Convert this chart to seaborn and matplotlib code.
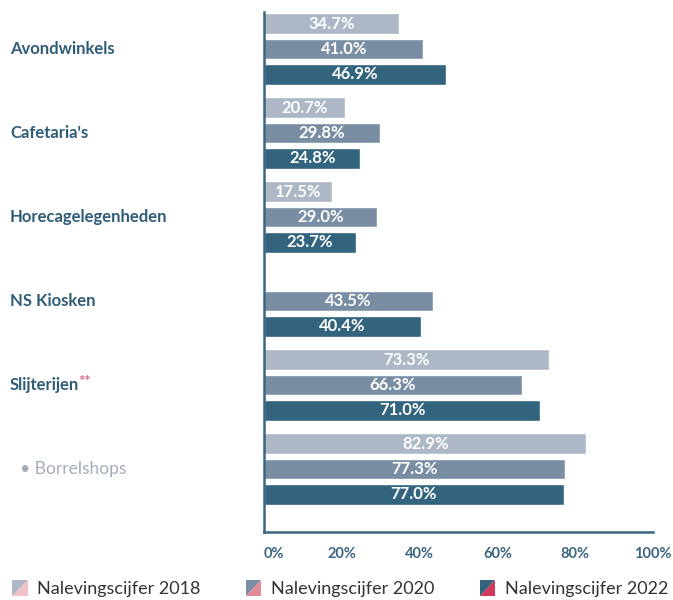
import matplotlib
matplotlib.use("Agg")
import matplotlib.pyplot as plt
from matplotlib.legend_handler import HandlerBase
from matplotlib.patches import Polygon
from matplotlib.transforms import blended_transform_factory
import numpy as np
import pandas as pd
import seaborn as sns

# Compliance rates (%) per sales channel and survey year
categories = ["Avondwinkels", "Cafetaria's", "Horecagelegenheden", "NS Kiosken",
              "Slijterijen", "Borrelshops"]
years = ["Nalevingscijfer 2018", "Nalevingscijfer 2020", "Nalevingscijfer 2022"]
values_2018 = [34.7, 20.7, 17.5, np.nan, 73.3, 82.9]
values_2020 = [41.0, 29.8, 29.0, 43.5, 66.3, 77.3]
values_2022 = [46.9, 24.8, 23.7, 40.4, 71.0, 77.0]
tick_values = list(range(0, 101, 10))
tick_labels = ["0%", "", "20%", "", "40%", "", "60%", "", "80%", "", "100%"]

bar_colors = ["#adb7c6", "#7a8ea3", "#33647e"]
accent_colors = ["#f0c1c8", "#e08b95", "#cf3a5b"]
axis_color = "#3a6580"
label_color = "#2f5d79"

df = pd.DataFrame({
    "category": categories * 3,
    "year": [years[0]] * 6 + [years[1]] * 6 + [years[2]] * 6,
    "value": values_2018 + values_2020 + values_2022,
})

sns.set_theme(style="white")
plt.rcParams["font.family"] = ["Lato", "DejaVu Sans"]

fig = plt.figure(figsize=(6.73, 6.0), dpi=100)
ax = fig.add_axes([264 / 673, 1 - 532 / 600, 389 / 673, 520 / 600])

sns.barplot(data=df, y="category", x="value", hue="year", order=categories,
            hue_order=years, palette=bar_colors, orient="h", width=0.9,
            gap=0.17, saturation=1, legend=False, ax=ax)

# value labels inside bars
for cont in ax.containers:
    labels = []
    for bar in cont:
        w = bar.get_width()
        labels.append("" if np.isnan(w) else f"{w:.1f}%")
    ax.bar_label(cont, labels=labels, label_type="center", color="white",
                 fontsize=12, fontweight="bold")

ax.set_xlim(0, 100)
ax.set_ylim(5.75, -0.44)
ax.set_xlabel("")
ax.set_ylabel("")
ax.set_yticks([])
ax.set_xticks(tick_values)
ax.set_xticklabels(tick_labels)
ax.tick_params(axis="x", direction="in", length=6, width=1.6, color=axis_color,
               pad=11, labelsize=10.5, labelcolor=axis_color)
for lab in ax.get_xticklabels():
    lab.set_fontweight("bold")
ax.get_xticklabels()[0].set_horizontalalignment("left")

for side in ["top", "right"]:
    ax.spines[side].set_visible(False)
for side in ["left", "bottom"]:
    ax.spines[side].set_color(axis_color)
    ax.spines[side].set_linewidth(1.8)

# category labels at the left edge of the figure
trans = blended_transform_factory(fig.transFigure, ax.transData)
for i, cat in enumerate(categories):
    if cat == "Borrelshops":
        ax.text(20 / 673, i, "• " + cat, transform=trans, ha="left", va="center",
                fontsize=12.5, color="#a3adbf")
    else:
        t = ax.text(10 / 673, i, cat, transform=trans, ha="left", va="center",
                    fontsize=12, fontweight="bold", color=label_color)
        if cat == "Slijterijen":
            ax.annotate("**", xy=(1, 1), xycoords=t, xytext=(-0.5, 1.5),
                        textcoords="offset points", ha="left", va="top",
                        fontsize=11, fontweight="bold", color="#e36a87")


class TwoTone:
    def __init__(self, c1, c2):
        self.c1 = c1
        self.c2 = c2


class TwoToneHandler(HandlerBase):
    def create_artists(self, legend, orig_handle, xdescent, ydescent, width,
                       height, fontsize, trans):
        x0, y0 = -xdescent, -ydescent
        side = min(width, height)
        upper = Polygon([[x0, y0], [x0, y0 + side], [x0 + side, y0 + side]],
                        closed=True, facecolor=orig_handle.c1, edgecolor="none",
                        transform=trans)
        lower = Polygon([[x0, y0], [x0 + side, y0], [x0 + side, y0 + side]],
                        closed=True, facecolor=orig_handle.c2, edgecolor="none",
                        transform=trans)
        return [upper, lower]


handles = [TwoTone(bar_colors[k], accent_colors[k]) for k in range(3)]
fig.legend(handles, years, handler_map={TwoTone: TwoToneHandler()},
           loc="lower left", bbox_to_anchor=(12 / 673, 3 / 600), ncol=3,
           frameon=False, fontsize=13, handlelength=0.95, handleheight=0.95,
           handletextpad=0.45, columnspacing=2.5, labelcolor="#333333",
           borderpad=0, borderaxespad=0)

fig.savefig("out.png", dpi=100)
